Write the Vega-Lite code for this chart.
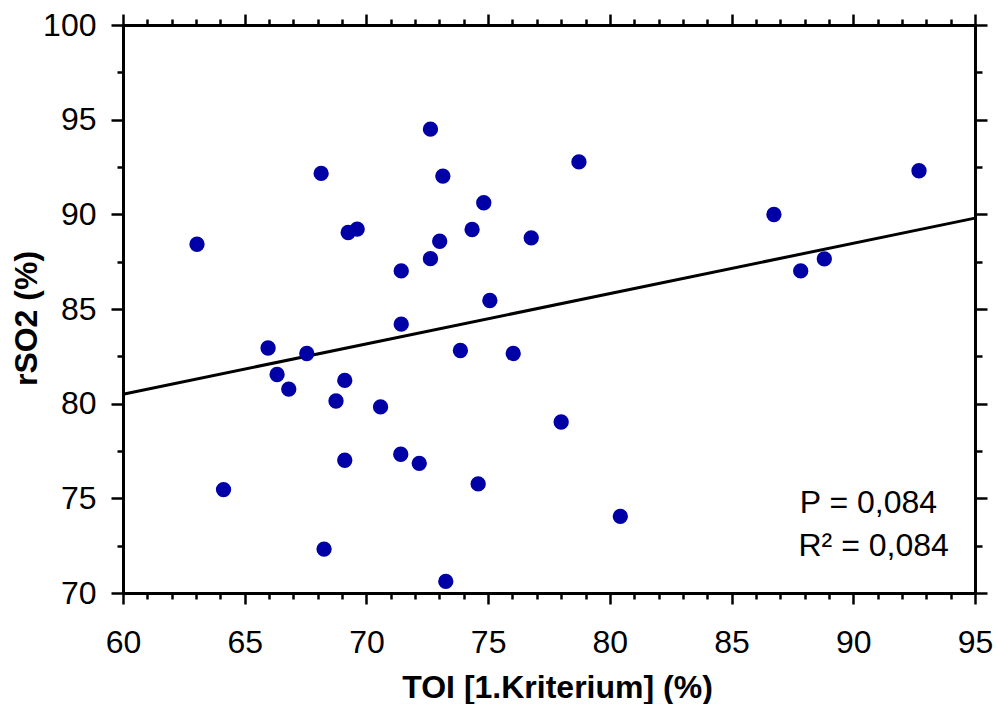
{
  "$schema": "https://vega.github.io/schema/vega-lite/v6.json",
  "width": 852,
  "height": 568,
  "autosize": "none",
  "padding": {"left": 123, "top": 25, "right": 23, "bottom": 111},
  "config": {
    "view": {"stroke": null},
    "font": "Liberation Sans",
    "axis": {
      "grid": false,
      "labelFlush": false,
      "labelOverlap": false,
      "domainColor": "black",
      "tickColor": "black",
      "domainWidth": 3,
      "tickWidth": 2.5,
      "labelColor": "black",
      "titleColor": "black",
      "labelFont": "Liberation Sans",
      "titleFont": "Liberation Sans"
    }
  },
  "datasets": {
    "points": [
      {"toi": 63.04, "rso2": 88.42},
      {"toi": 64.13, "rso2": 75.46},
      {"toi": 65.96, "rso2": 82.94},
      {"toi": 66.33, "rso2": 81.54},
      {"toi": 66.81, "rso2": 80.77},
      {"toi": 67.55, "rso2": 82.65},
      {"toi": 68.14, "rso2": 92.16},
      {"toi": 68.26, "rso2": 72.32},
      {"toi": 68.75, "rso2": 80.14},
      {"toi": 69.11, "rso2": 81.23},
      {"toi": 69.11, "rso2": 77.01},
      {"toi": 69.25, "rso2": 89.04},
      {"toi": 69.62, "rso2": 89.22},
      {"toi": 70.58, "rso2": 79.83},
      {"toi": 71.43, "rso2": 87.01},
      {"toi": 71.43, "rso2": 84.20},
      {"toi": 71.41, "rso2": 77.33},
      {"toi": 72.17, "rso2": 76.85},
      {"toi": 72.63, "rso2": 87.66},
      {"toi": 72.63, "rso2": 94.50},
      {"toi": 73.01, "rso2": 88.58},
      {"toi": 73.14, "rso2": 92.02},
      {"toi": 73.26, "rso2": 70.61},
      {"toi": 73.86, "rso2": 82.81},
      {"toi": 74.34, "rso2": 89.20},
      {"toi": 74.59, "rso2": 75.76},
      {"toi": 74.82, "rso2": 90.61},
      {"toi": 75.07, "rso2": 85.45},
      {"toi": 76.03, "rso2": 82.65},
      {"toi": 76.77, "rso2": 88.76},
      {"toi": 78.00, "rso2": 79.03},
      {"toi": 78.73, "rso2": 92.77},
      {"toi": 80.43, "rso2": 74.05},
      {"toi": 86.74, "rso2": 89.99},
      {"toi": 87.84, "rso2": 87.01},
      {"toi": 88.81, "rso2": 87.65},
      {"toi": 92.70, "rso2": 92.30}
    ],
    "fit": [
      {"x": 60, "y": 80.5},
      {"x": 95, "y": 89.8}
    ],
    "noteP": [
      {"x": 87.8, "y": 74.22, "label": "P = 0,084"}
    ],
    "noteR": [
      {"x": 87.75, "y": 71.93, "label": "R² = 0,084"}
    ]
  },
  "resolve": {"axis": {"x": "independent", "y": "independent"}},
  "layer": [
    {
      "data": {"name": "fit"},
      "mark": {"type": "line", "color": "black", "strokeWidth": 3},
      "encoding": {
        "x": {
          "field": "x", "type": "quantitative",
          "scale": {"domain": [60, 95], "nice": false, "zero": false},
          "axis": {
            "orient": "bottom",
            "values": [61,62,63,64,66,67,68,69,71,72,73,74,76,77,78,79,81,82,83,84,86,87,88,89,91,92,93,94],
            "tickSize": 6, "labels": false, "domain": false, "title": null
          }
        },
        "y": {
          "field": "y", "type": "quantitative",
          "scale": {"domain": [70, 100], "nice": false, "zero": false},
          "axis": {
            "orient": "left",
            "values": [72.5, 77.5, 82.5, 87.5, 92.5, 97.5],
            "tickSize": 6, "labels": false, "domain": false, "title": null
          }
        }
      }
    },
    {
      "data": {"name": "noteP"},
      "mark": {"type": "text", "align": "left", "baseline": "alphabetic", "fontSize": 32, "color": "black"},
      "encoding": {
        "x": {
          "field": "x", "type": "quantitative",
          "scale": {"domain": [60, 95], "nice": false, "zero": false},
          "axis": {
            "orient": "top",
            "values": [60, 65, 70, 75, 80, 85, 90, 95],
            "tickSize": 11, "labels": false, "domain": true, "title": null
          }
        },
        "y": {
          "field": "y", "type": "quantitative",
          "scale": {"domain": [70, 100], "nice": false, "zero": false},
          "axis": {
            "orient": "right",
            "values": [70, 75, 80, 85, 90, 95, 100],
            "tickSize": 12, "labels": false, "domain": true, "title": null
          }
        },
        "text": {"field": "label", "type": "nominal"}
      }
    },
    {
      "data": {"name": "noteR"},
      "mark": {"type": "text", "align": "left", "baseline": "alphabetic", "fontSize": 32, "color": "black"},
      "encoding": {
        "x": {
          "field": "x", "type": "quantitative",
          "scale": {"domain": [60, 95], "nice": false, "zero": false},
          "axis": {
            "orient": "top",
            "values": [61,62,63,64,66,67,68,69,71,72,73,74,76,77,78,79,81,82,83,84,86,87,88,89,91,92,93,94],
            "tickSize": 6, "labels": false, "domain": false, "title": null
          }
        },
        "y": {
          "field": "y", "type": "quantitative",
          "scale": {"domain": [70, 100], "nice": false, "zero": false},
          "axis": {
            "orient": "right",
            "values": [72.5, 77.5, 82.5, 87.5, 92.5, 97.5],
            "tickSize": 7, "labels": false, "domain": false, "title": null
          }
        },
        "text": {"field": "label", "type": "nominal"}
      }
    },
    {
      "data": {"name": "points"},
      "mark": {"type": "circle", "size": 235, "color": "#0000a6", "opacity": 1},
      "encoding": {
        "x": {
          "field": "toi", "type": "quantitative",
          "scale": {"domain": [60, 95], "nice": false, "zero": false},
          "axis": {
            "orient": "bottom",
            "values": [60, 65, 70, 75, 80, 85, 90, 95],
            "format": "d",
            "tickSize": 11,
            "labelFontSize": 32,
            "labelBaseline": "alphabetic",
            "labelPadding": 48,
            "title": "TOI [1.Kriterium] (%)",
            "titleFontSize": 32,
            "titleFontWeight": "bold",
            "titleX": 434,
            "titleY": 104,
            "titleAlign": "center",
            "titleBaseline": "alphabetic"
          }
        },
        "y": {
          "field": "rso2", "type": "quantitative",
          "scale": {"domain": [70, 100], "nice": false, "zero": false},
          "axis": {
            "orient": "left",
            "values": [70, 75, 80, 85, 90, 95, 100],
            "format": "d",
            "tickSize": 12,
            "labelFontSize": 32,
            "labelPadding": 15,
            "labelBaseline": "middle",
            "title": "rSO2 (%)",
            "titleFontSize": 32,
            "titleFontWeight": "bold",
            "titleAngle": -90,
            "titleX": -87,
            "titleY": 293,
            "titleAlign": "center",
            "titleBaseline": "alphabetic"
          }
        }
      }
    }
  ]
}
